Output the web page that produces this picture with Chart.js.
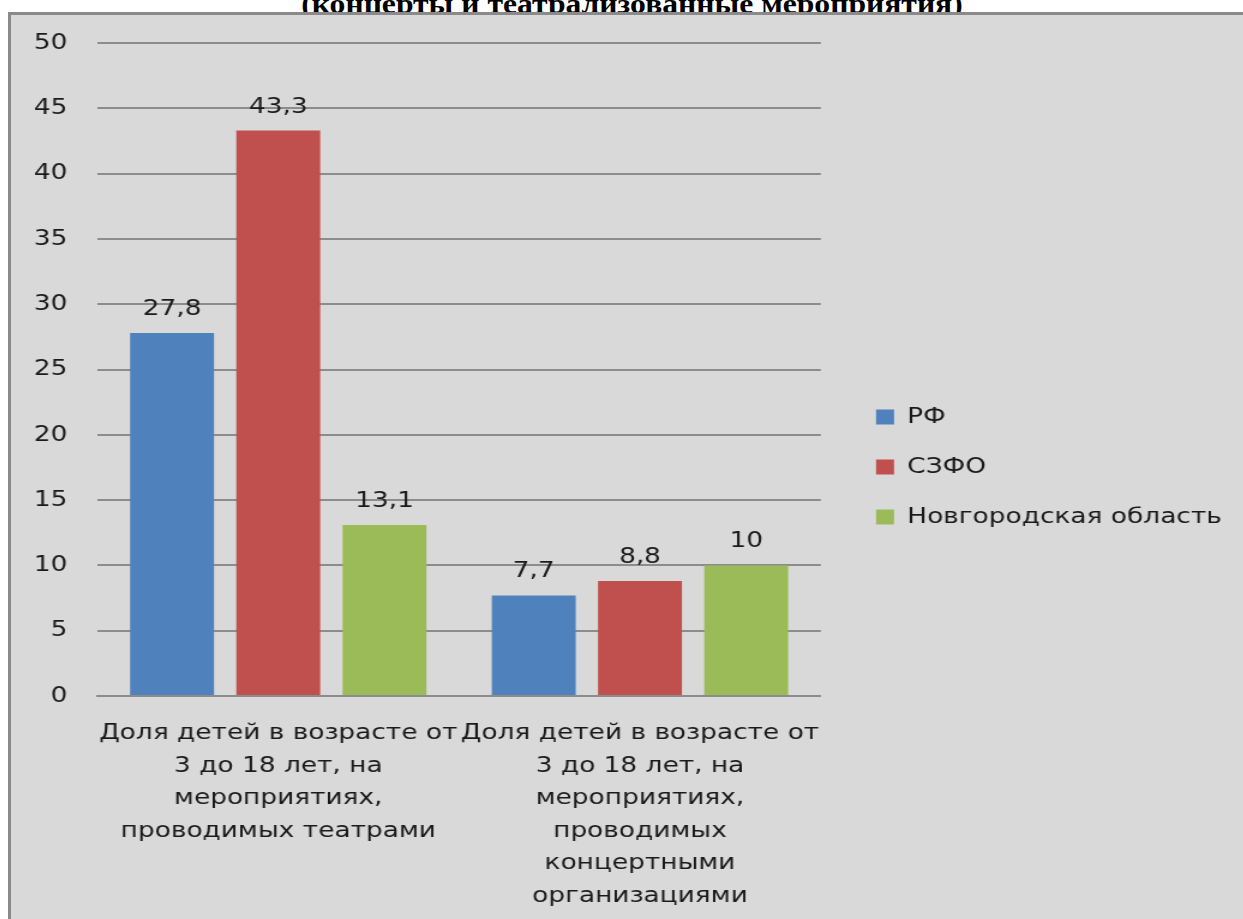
<!DOCTYPE html>
<html lang="ru">
<head>
<meta charset="utf-8">
<title>Доля детей на мероприятиях</title>
<script src="https://cdn.jsdelivr.net/npm/chart.js@4.4.1/dist/chart.umd.min.js"></script>
<style>
  html, body {
    margin: 0;
    padding: 0;
    background: #ffffff;
    overflow: hidden;
  }
  #title {
    position: absolute;
    left: 0;
    width: 1264px;
    top: -12px;
    text-align: center;
    font: bold 28px "Liberation Serif", "Times New Roman", serif;
    color: #000;
    white-space: nowrap;
    transform: scaleX(1.13);
    transform-origin: 632px 0;
    z-index: 0;
  }
  #panel {
    position: absolute;
    left: 8px;
    top: 12px;
    width: 1240px;
    height: 910px;
    background: #d9d9d9;
    border-left: 3px solid #8a8a8a;
    border-top: 3px solid #8a8a8a;
    overflow: hidden;
    z-index: 1;
  }
  /* картинка в оригинале растянута по горизонтали */
  #wrap {
    position: absolute;
    left: 0;
    top: 0;
    width: 1027px;
    height: 904px;
    transform: scaleX(1.2);
    transform-origin: 0 0;
  }
</style>
</head>
<body>
<div id="title">(концерты и театрализованные мероприятия)</div>
<div id="panel">
  <div id="wrap"><canvas id="chart"></canvas></div>
</div>
<script>
// данные графика
const categories = [
  ["Доля детей в возрасте от", "3 до 18 лет, на", "мероприятиях,", "проводимых театрами"],
  ["Доля детей в возрасте от", "3 до 18 лет, на", "мероприятиях,", "проводимых", "концертными", "организациями"],
];
const seriesNames = ["РФ", "СЗФО", "Новгородская область"];
const valuesRF = [27.8, 7.7];
const valuesSZFO = [43.3, 8.8];
const valuesNovgorod = [13.1, 10];
const yTicks = [0, 5, 10, 15, 20, 25, 30, 35, 40, 45, 50];

const colors = ["#4f81bd", "#c0504d", "#9bbb59"];
const fontFamily = '"DejaVu Sans", "Open Sans", sans-serif';
const textColor = "#1a1a1a";

// подписи значений над столбцами
const valueLabels = {
  id: "valueLabels",
  afterDatasetsDraw(chart) {
    const ctx = chart.ctx;
    ctx.save();
    ctx.font = "22px " + fontFamily;
    ctx.fillStyle = textColor;
    ctx.textAlign = "center";
    ctx.textBaseline = "alphabetic";
    chart.data.datasets.forEach((ds, i) => {
      const meta = chart.getDatasetMeta(i);
      meta.data.forEach((bar, j) => {
        const text = String(ds.data[j]).replace(".", ",");
        ctx.fillText(text, bar.x, bar.y - 18);
      });
    });
    ctx.restore();
  },
};

const ctx = document.getElementById("chart").getContext("2d");

new Chart(ctx, {
  type: "bar",
  data: {
    labels: categories,
    datasets: [
      { label: seriesNames[0], data: valuesRF, backgroundColor: colors[0] },
      { label: seriesNames[1], data: valuesSZFO, backgroundColor: colors[1] },
      { label: seriesNames[2], data: valuesNovgorod, backgroundColor: colors[2] },
    ],
  },
  options: {
    responsive: true,
    maintainAspectRatio: false,
    animation: false,
    events: [],
    layout: {
      padding: { top: 0, right: 8, bottom: 0, left: 0 },
    },
    datasets: {
      bar: {
        categoryPercentage: 0.881,
        barPercentage: 0.79,
      },
    },
    plugins: {
      tooltip: { enabled: false },
      legend: {
        position: "right",
        align: "center",
        maxWidth: 340,
        labels: {
          boxWidth: 15,
          boxHeight: 15,
          padding: 28,
          color: textColor,
          font: { family: fontFamily, size: 22 },
        },
      },
    },
    scales: {
      x: {
        grid: { display: false, drawTicks: false },
        border: { display: true, color: "#8c8c8c", width: 2 },
        ticks: {
          color: textColor,
          padding: 21,
          maxRotation: 0,
          autoSkip: false,
          font: { family: fontFamily, size: 22, lineHeight: 1.48 },
        },
        afterFit(scale) {
          scale.height = 223;
        },
      },
      xTop: {
        type: "category",
        position: "top",
        display: true,
        grid: { display: false, drawTicks: false },
        border: { display: false },
        ticks: { display: false },
        afterFit(scale) {
          scale.height = 28;
        },
      },
      y: {
        min: 0,
        max: 50,
        afterBuildTicks(scale) {
          scale.ticks = yTicks.map((v) => ({ value: v }));
        },
        grid: { color: "#8c8c8c", lineWidth: 2, drawTicks: false },
        border: { display: false },
        ticks: {
          color: textColor,
          padding: 25,
          font: { family: fontFamily, size: 22 },
        },
        afterFit(scale) {
          scale.width = 72;
          scale.paddingTop = 0;
          scale.paddingBottom = 0;
        },
      },
      yRight: {
        type: "linear",
        position: "right",
        display: true,
        grid: { display: false, drawTicks: false },
        border: { display: false },
        ticks: { display: false },
        afterFit(scale) {
          scale.width = 18;
          scale.paddingTop = 0;
          scale.paddingBottom = 0;
        },
      },
    },
  },
  plugins: [valueLabels],
});
</script>
</body>
</html>
